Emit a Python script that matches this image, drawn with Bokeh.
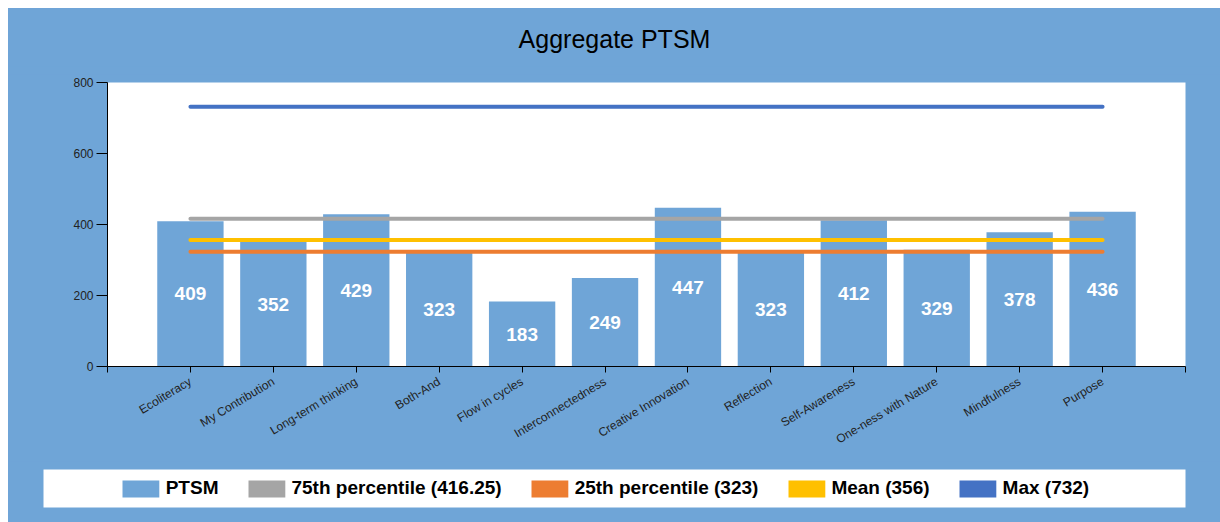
import math
from bokeh.plotting import figure
from bokeh.models import ColumnDataSource, Range1d, FixedTicker, Legend, LegendItem, LabelSet, Spacer
from bokeh.layouts import column, row
from bokeh.core.properties import value
from bokeh.embed import file_html
from bokeh.resources import INLINE

# ---- data ----
categories = ["Ecoliteracy", "My Contribution", "Long-term thinking", "Both-And",
              "Flow in cycles", "Interconnectedness", "Creative Innovation", "Reflection",
              "Self-Awareness", "One-ness with Nature", "Mindfulness", "Purpose"]
ptsm = [409, 352, 429, 323, 183, 249, 447, 323, 412, 329, 378, 436]
p75 = 416.25
p25 = 323
mean_v = 356
max_v = 732
y_ticks = [0, 200, 400, 600, 800]
legend_labels = ["PTSM", "75th percentile (416.25)", "25th percentile (323)", "Mean (356)", "Max (732)"]
chart_title = "Aggregate PTSM"

# ---- styles ----
BG = "#6FA5D7"
BAR = "#6FA5D7"
GRAY = "#A5A5A5"
ORANGE = "#ED7D31"
YELLOW = "#FFC000"
MAXC = "#4472C4"
FONT = "Liberation Sans"
W = 1212

n = len(categories)
positions = list(range(1, n + 1))
src = ColumnDataSource(dict(x=positions, top=ptsm, mid=[v / 2 for v in ptsm],
                            label=[str(v) for v in ptsm]))

# ---- title strip ----
tf = figure(width=W, height=66, x_range=Range1d(0, 1), y_range=Range1d(0, 1),
            output_backend="svg", toolbar_location=None, x_axis_type=None, y_axis_type=None,
            title=chart_title)
tf.frame_align = False
tf.min_border_left = 0
tf.min_border_right = 0
tf.min_border_top = 0
tf.min_border_bottom = 0
tf.background_fill_color = BG
tf.border_fill_color = BG
tf.outline_line_color = None
tf.grid.visible = False
tf.title.align = "center"
tf.title.text_font = FONT
tf.title.text_font_size = "25px"
tf.title.text_font_style = "normal"
tf.title.text_color = "black"
tf.title.standoff = 28

# ---- main chart ----
p = figure(width=W, height=387, x_range=Range1d(0, n + 1), y_range=Range1d(0, 800),
           output_backend="svg", toolbar_location=None)
p.frame_align = False
p.min_border_left = 99
p.min_border_right = 35
p.min_border_top = 8
p.min_border_bottom = 95
p.background_fill_color = "white"
p.border_fill_color = BG
p.outline_line_color = None
p.grid.visible = False

p.vbar(x="x", top="top", width=0.8, source=src, fill_color=BAR, line_color=None)

for val, color in [(p75, GRAY), (p25, ORANGE), (mean_v, YELLOW), (max_v, MAXC)]:
    p.line(x=positions, y=[val] * n, line_color=color, line_width=4, line_cap="round")

labels = LabelSet(x="x", y="mid", text="label", source=src, text_align="center",
                  text_baseline="middle", text_color="white", text_font_size="19px",
                  text_font_style="bold", text_font=value(FONT))
p.add_layout(labels)

p.xaxis.ticker = FixedTicker(ticks=list(range(0, n + 2)))
overrides = {0: "", n + 1: ""}
for i, c in enumerate(categories, 1):
    overrides[i] = c
p.xaxis.major_label_overrides = overrides
p.xaxis.major_label_orientation = math.radians(31)
p.yaxis.ticker = FixedTicker(ticks=y_ticks)
for ax in [p.xaxis, p.yaxis]:
    ax.axis_line_color = "black"
    ax.major_tick_line_color = "black"
    ax.major_tick_in = 0
    ax.minor_tick_line_color = None
    ax.major_label_text_font = FONT
    ax.major_label_text_font_size = "12px"
    ax.major_label_text_color = "#222222"
p.xaxis.major_tick_out = 6
p.yaxis.major_tick_out = 11
p.xaxis.major_label_standoff = 8
p.yaxis.major_label_standoff = 3

# ---- legend strip: its white frame is the legend box ----
lg = figure(width=W, height=61, x_range=Range1d(0, 1), y_range=Range1d(0, 1),
            output_backend="svg", toolbar_location=None, x_axis_type=None, y_axis_type=None)
lg.frame_align = False
lg.min_border_left = 35
lg.min_border_right = 35
lg.min_border_top = 8
lg.min_border_bottom = 15
lg.background_fill_color = "white"
lg.border_fill_color = BG
lg.outline_line_color = None
lg.grid.visible = False

items = []
pad_l = lg.vbar(x=[0.5], bottom=[0], top=[0], width=0, fill_alpha=0, line_alpha=0)
items.append(LegendItem(label="\u00a0", renderers=[pad_l]))
for lab, color in zip(legend_labels, [BAR, GRAY, ORANGE, YELLOW, MAXC]):
    # zero-size bar: used only as the legend swatch
    r = lg.vbar(x=[0.5], bottom=[0], top=[0], width=0, fill_color=color, line_color=None)
    items.append(LegendItem(label=lab, renderers=[r]))
pad_r = lg.vbar(x=[0.5], bottom=[0], top=[0], width=0, fill_alpha=0, line_alpha=0)
items.append(LegendItem(label="\u00a0" * 5, renderers=[pad_r]))

leg = Legend(items=items, orientation="horizontal", location="center",
             glyph_width=46, glyph_height=21, label_standoff=2, spacing=25,
             label_width=0, label_height=20,
             label_text_font=FONT, label_text_font_size="19px", label_text_font_style="bold",
             label_text_color="black", border_line_color=None, background_fill_alpha=0,
             padding=8, margin=0)
lg.add_layout(leg, "center")

charts = column(tf, p, lg, spacing=0, styles={"background-color": BG})
layout = column(Spacer(height=8), row(Spacer(width=8), charts, spacing=0), spacing=0)
open("out.html", "w").write(file_html(layout, INLINE))
